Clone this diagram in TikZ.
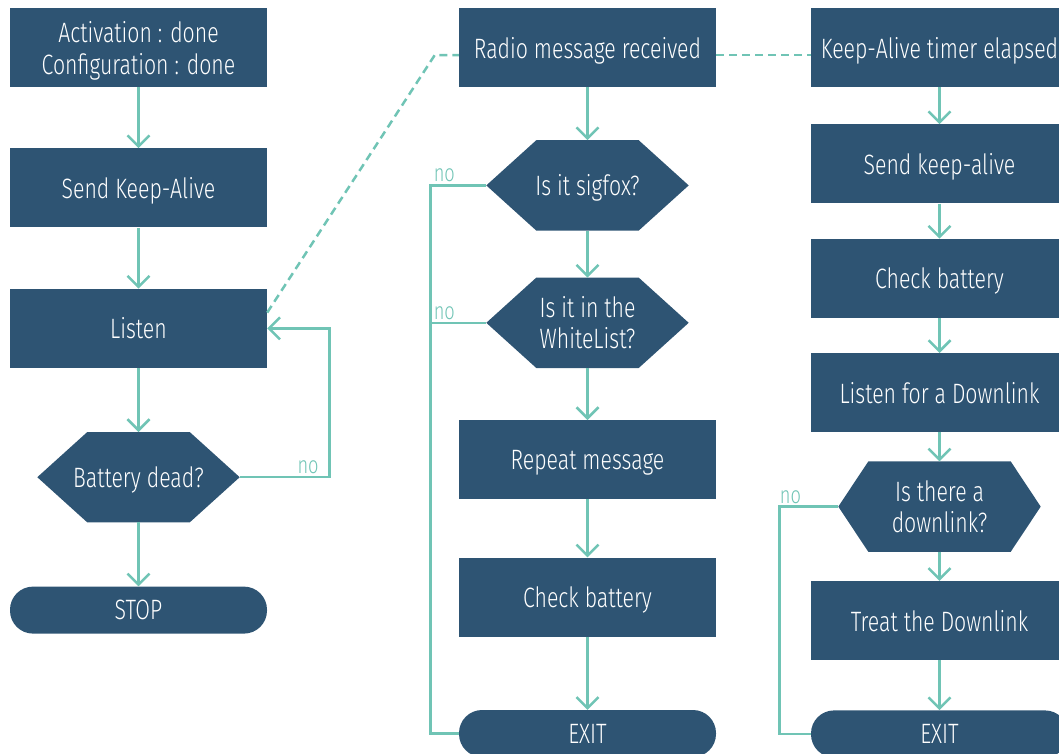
\documentclass[tikz,border=0pt]{standalone}
\usepackage{fontspec}
\setmainfont{Fira Sans Light}[FakeStretch=0.76]
\usetikzlibrary{arrows.meta, positioning, backgrounds}
\definecolor{flowblue}{RGB}{46,84,115}
\definecolor{flowteal}{RGB}{112,196,181}

% fill a hexagon behind a decision node
\newcommand{\hexfill}[2]{%
  \fill[flowblue] (#1.west) -- ([xshift=#2]#1.north west) -- ([xshift=-#2]#1.north east)
    -- (#1.east) -- ([xshift=-#2]#1.south east) -- ([xshift=#2]#1.south west) -- cycle;}

\begin{document}
\begin{tikzpicture}[x=1pt, y=1pt,
    box/.style={rectangle, fill=flowblue, text=white, minimum width=257pt,
                minimum height=79pt, inner sep=0pt, align=center, text depth=0pt,
                font=\fontsize{28}{32}\selectfont},
    decision/.style={rectangle, text=white, minimum width=202pt,
                minimum height=90pt, inner sep=0pt, align=center, text depth=0pt,
                font=\fontsize{28}{31}\selectfont},
    term/.style={box, minimum height=47pt, rounded corners=23pt},
    arrow/.style={-{Straight Barb[length=11pt,width=22pt]}, line width=2.5pt, flowteal},
    link/.style={line width=2.5pt, flowteal},
    dashlink/.style={line width=2.5pt, flowteal, dash pattern=on 8pt off 5pt},
    nolabel/.style={above, text=flowteal, inner sep=2pt,
                font=\fontsize{24}{24}\selectfont},
    node distance=61pt
]
\useasboundingbox (0,0) rectangle (1059,-753);

% left column
\node[box] (A) at (138.5,-47.5) {Activation : done\\Configuration : done};
\node[box, below=of A] (B) {Send Keep-Alive};
\node[box, below=of B] (C) {Listen};
\node[decision, below=64pt of C] (D) {Battery dead?};
\node[term, below=64pt of D] (E) {STOP};

% middle column
\node[box] (R) at (587.5,-47.5) {Radio message received};
\node[decision, below=53pt of R] (S) {Is it sigfox?};
\node[decision, below=47pt of S] (W) {Is it in the\\WhiteList?};
\node[box, below=52pt of W] (P) {Repeat message};
\node[box, below=58pt of P] (Q) {Check battery};
\node[term, below=73pt of Q] (X) {EXIT};

% right column
\node[box] (K) at (939.5,-47.5) {Keep-Alive timer elapsed};
\node[box, below=37pt of K] (L) {Send keep-alive};
\node[box, below=35pt of L] (M) {Check battery};
\node[box, below=35pt of M] (N) {Listen for a Downlink};
\node[decision, below=29pt of N] (H) {Is there a\\downlink?};
\node[box, below=29pt of H] (T) {Treat the Downlink};
\node[term, below=50pt of T] (Y) {EXIT};

\begin{scope}[on background layer]
  \hexfill{D}{50pt}
  \hexfill{S}{50pt}
  \hexfill{W}{50pt}
  \hexfill{H}{30pt}
\end{scope}

\draw[arrow] (A) -- (B);
\draw[arrow] (B) -- (C);
\draw[arrow] (C) -- (D);
\draw[arrow] (D) -- (E);
\draw[arrow] (D.east) -- node[nolabel, pos=0.76]{no} ++(90pt,0) |- (C.east);

\draw[arrow] (R) -- (S);
\draw[arrow] (S) -- (W);
\draw[arrow] (W) -- (P);
\draw[arrow] (P) -- (Q);
\draw[arrow] (Q) -- (X);
\draw[link] (S.west) -- node[nolabel, pos=0.75]{no} ++(-56pt,0) |- (X.west);
\draw[link] (W.west) -- node[nolabel, pos=0.75]{no} ++(-56pt,0);

\draw[arrow] (K) -- (L);
\draw[arrow] (L) -- (M);
\draw[arrow] (M) -- (N);
\draw[arrow] (N) -- (H);
\draw[arrow] (H) -- (T);
\draw[arrow] (T) -- (Y);
\draw[link] (H.west) -- node[nolabel, pos=0.81]{no} ++(-59pt,0) |- (Y.west);

\draw[dashlink] ([yshift=-24pt]C.north east) -- ([xshift=-24pt,yshift=-7.5pt]R.west)
    -- ([yshift=-7.5pt]R.west);
\draw[dashlink] ([yshift=-7.5pt]R.east) -- ([yshift=-7.5pt]K.west);
\end{tikzpicture}
\end{document}
